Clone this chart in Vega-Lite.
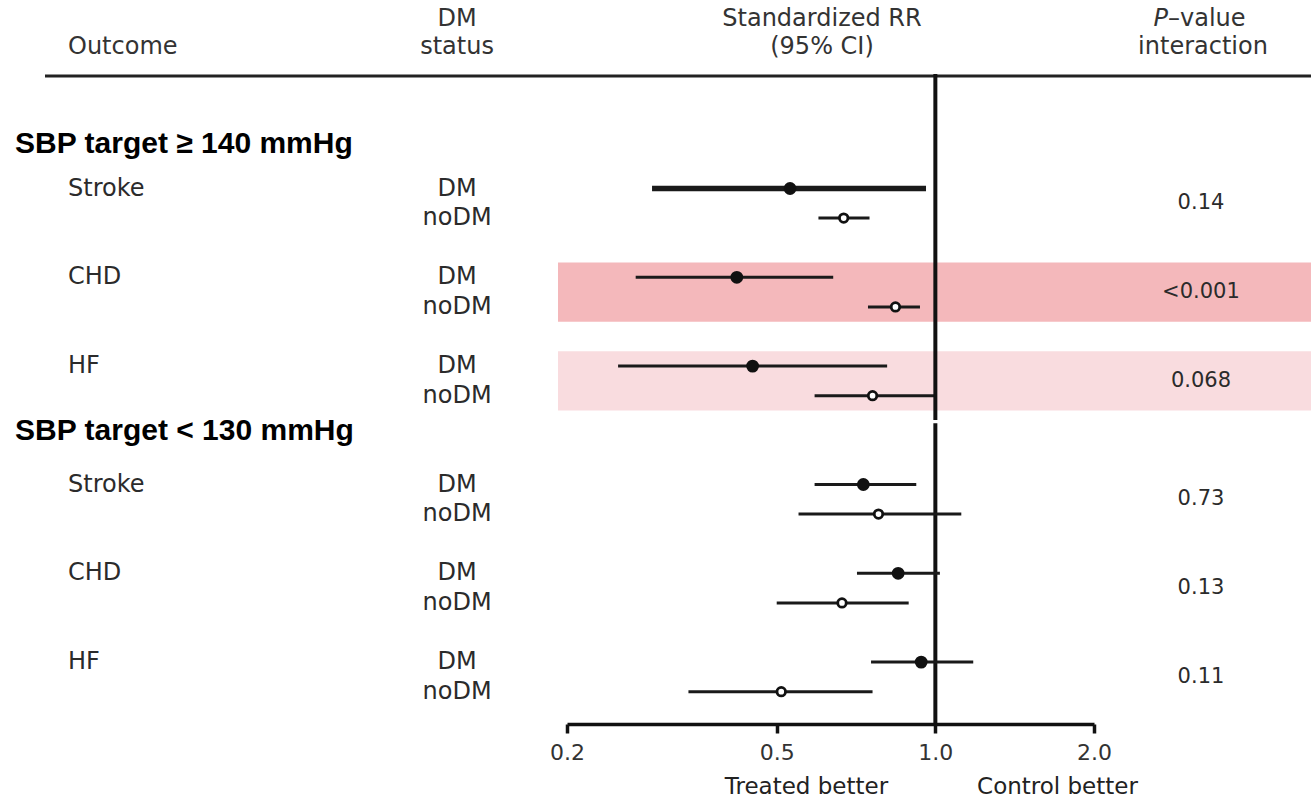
{
  "$schema": "https://vega.github.io/schema/vega-lite/v6.json",
  "width": 527,
  "height": 724,
  "autosize": {"type": "none"},
  "padding": {"left": 567, "top": 0, "right": 217, "bottom": 73},
  "background": "white",
  "config": {"view": {"stroke": null}, "font": "DejaVu Sans"},
  "datasets": {
    "estimates": [
      {"target": "≥140", "outcome": "Stroke", "dm": "DM", "row": "≥140 Stroke DM", "rr": 0.53, "lo": 0.29, "hi": 0.96},
      {"target": "≥140", "outcome": "Stroke", "dm": "noDM", "row": "≥140 Stroke noDM", "rr": 0.67, "lo": 0.60, "hi": 0.75},
      {"target": "≥140", "outcome": "CHD", "dm": "DM", "row": "≥140 CHD DM", "rr": 0.42, "lo": 0.27, "hi": 0.64},
      {"target": "≥140", "outcome": "CHD", "dm": "noDM", "row": "≥140 CHD noDM", "rr": 0.84, "lo": 0.745, "hi": 0.935},
      {"target": "≥140", "outcome": "HF", "dm": "DM", "row": "≥140 HF DM", "rr": 0.45, "lo": 0.25, "hi": 0.81},
      {"target": "≥140", "outcome": "HF", "dm": "noDM", "row": "≥140 HF noDM", "rr": 0.76, "lo": 0.59, "hi": 1.0},
      {"target": "<130", "outcome": "Stroke", "dm": "DM", "row": "<130 Stroke DM", "rr": 0.73, "lo": 0.59, "hi": 0.92},
      {"target": "<130", "outcome": "Stroke", "dm": "noDM", "row": "<130 Stroke noDM", "rr": 0.78, "lo": 0.55, "hi": 1.12},
      {"target": "<130", "outcome": "CHD", "dm": "DM", "row": "<130 CHD DM", "rr": 0.85, "lo": 0.71, "hi": 1.02},
      {"target": "<130", "outcome": "CHD", "dm": "noDM", "row": "<130 CHD noDM", "rr": 0.665, "lo": 0.50, "hi": 0.89},
      {"target": "<130", "outcome": "HF", "dm": "DM", "row": "<130 HF DM", "rr": 0.94, "lo": 0.755, "hi": 1.18},
      {"target": "<130", "outcome": "HF", "dm": "noDM", "row": "<130 HF noDM", "rr": 0.51, "lo": 0.34, "hi": 0.76}
    ],
    "outcomes": [
      {"target": "≥140", "outcome": "Stroke", "p": "0.14", "significance": "ns", "top": "≥140 Stroke top", "dmRow": "≥140 Stroke DM", "mid": "≥140 Stroke mid", "bottom": "≥140 Stroke bottom"},
      {"target": "≥140", "outcome": "CHD", "p": "<0.001", "significance": "p<0.05", "top": "≥140 CHD top", "dmRow": "≥140 CHD DM", "mid": "≥140 CHD mid", "bottom": "≥140 CHD bottom"},
      {"target": "≥140", "outcome": "HF", "p": "0.068", "significance": "p<0.10", "top": "≥140 HF top", "dmRow": "≥140 HF DM", "mid": "≥140 HF mid", "bottom": "≥140 HF bottom"},
      {"target": "<130", "outcome": "Stroke", "p": "0.73", "significance": "ns", "top": "<130 Stroke top", "dmRow": "<130 Stroke DM", "mid": "<130 Stroke mid", "bottom": "<130 Stroke bottom"},
      {"target": "<130", "outcome": "CHD", "p": "0.13", "significance": "ns", "top": "<130 CHD top", "dmRow": "<130 CHD DM", "mid": "<130 CHD mid", "bottom": "<130 CHD bottom"},
      {"target": "<130", "outcome": "HF", "p": "0.11", "significance": "ns", "top": "<130 HF top", "dmRow": "<130 HF DM", "mid": "<130 HF mid", "bottom": "<130 HF bottom"}
    ],
    "headings": [
      {"target": "≥140", "heading": "SBP target ≥ 140 mmHg", "row": "head ≥140"},
      {"target": "<130", "heading": "SBP target < 130 mmHg", "row": "head <130"}
    ]
  },
  "layer": [
    {
      "layer": [
        {
          "data": {"name": "outcomes"},
          "transform": [{"filter": "datum.significance !== 'ns'"}],
          "mark": {"type": "rect"},
          "encoding": {
            "x": {"datum": 0.1923, "type": "quantitative", "scale": {"type": "log", "domain": [0.2, 2], "nice": false}},
            "x2": {"datum": 5.1614},
            "y": {"field": "top", "type": "nominal", "axis": null, "scale": {"type": "point", "padding": 0.96, "align": 0.905, "round": false, "domain": ["pad 1", "pad 2", "pad 3", "pad 4", "pad 5", "pad 6", "pad 7", "pad 8", "head ≥140", "gap a", "≥140 Stroke top", "≥140 Stroke DM", "≥140 Stroke mid", "≥140 Stroke noDM", "≥140 Stroke bottom", "gap b", "≥140 CHD top", "≥140 CHD DM", "≥140 CHD mid", "≥140 CHD noDM", "≥140 CHD bottom", "gap c", "≥140 HF top", "≥140 HF DM", "≥140 HF mid", "≥140 HF noDM", "≥140 HF bottom", "split", "head <130", "gap d", "<130 Stroke top", "<130 Stroke DM", "<130 Stroke mid", "<130 Stroke noDM", "<130 Stroke bottom", "gap e", "<130 CHD top", "<130 CHD DM", "<130 CHD mid", "<130 CHD noDM", "<130 CHD bottom", "gap f", "<130 HF top", "<130 HF DM", "<130 HF mid", "<130 HF noDM", "<130 HF bottom", "base"]}},
            "y2": {"field": "bottom"},
            "fill": {"field": "significance", "type": "nominal", "scale": {"domain": ["p<0.05", "p<0.10"], "range": ["#f4b8bb", "#f9dcdf"]}, "legend": null}
          }
        },
        {
          "data": {"values": [{}]},
          "mark": {"type": "rule", "color": "#111111", "strokeWidth": 4, "strokeCap": "square"},
          "encoding": {
            "x": {"datum": 1, "type": "quantitative"},
            "y": {"datum": "split", "type": "nominal", "axis": null},
            "y2": {"datum": "base"}
          }
        },
        {
          "data": {"name": "estimates"},
          "mark": {"type": "rule", "color": "#1a1a1a"},
          "encoding": {
            "x": {"field": "lo", "type": "quantitative", "scale": {"type": "log", "domain": [0.2, 2], "nice": false},
                  "axis": {"orient": "bottom", "values": [0.2, 0.5, 1, 2], "format": ".1f", "title": null, "grid": false, "domainColor": "#111111", "domainWidth": 3.5, "tickColor": "#111111", "tickWidth": 3.5, "tickSize": 9, "labelFont": "DejaVu Sans", "labelFontSize": 22, "labelColor": "#333333", "labelPadding": 9, "labelFlush": false, "labelOverlap": false}},
            "x2": {"field": "hi"},
            "y": {"field": "row", "type": "nominal", "axis": null},
            "strokeWidth": {"condition": {"test": "datum.target === '≥140' && datum.outcome === 'Stroke' && datum.dm === 'DM'", "value": 5.5}, "value": 3}
          }
        },
        {
          "data": {"name": "estimates"},
          "mark": {"type": "point", "shape": "circle", "stroke": "#111111", "strokeWidth": 2.8, "opacity": 1},
          "encoding": {
            "x": {"field": "rr", "type": "quantitative"},
            "y": {"field": "row", "type": "nominal", "axis": null},
            "fill": {"condition": {"test": "datum.dm === 'DM'", "value": "#111111"}, "value": "#ffffff"},
            "size": {"condition": {"test": "datum.dm === 'DM'", "value": 100}, "value": 72}
          }
        },
        {
          "data": {"name": "outcomes"},
          "mark": {"type": "text", "align": "left", "baseline": "middle", "font": "DejaVu Sans", "fontSize": 24, "color": "#2b2b2b"},
          "encoding": {
            "x": {"datum": 0.022602, "type": "quantitative"},
            "y": {"field": "dmRow", "type": "nominal", "axis": null},
            "text": {"field": "outcome"}
          }
        },
        {
          "data": {"name": "estimates"},
          "mark": {"type": "text", "align": "center", "baseline": "middle", "font": "DejaVu Sans", "fontSize": 24, "color": "#2b2b2b"},
          "encoding": {
            "x": {"datum": 0.12371, "type": "quantitative"},
            "y": {"field": "row", "type": "nominal", "axis": null},
            "text": {"field": "dm"}
          }
        },
        {
          "data": {"name": "outcomes"},
          "mark": {"type": "text", "align": "center", "baseline": "middle", "font": "DejaVu Sans", "fontSize": 21, "color": "#2b2b2b"},
          "encoding": {
            "x": {"datum": 3.1918, "type": "quantitative"},
            "y": {"field": "mid", "type": "nominal", "axis": null},
            "text": {"field": "p"}
          }
        },
        {
          "data": {"name": "headings"},
          "transform": [{"filter": "datum.target === '≥140'"}],
          "mark": {"type": "text", "align": "left", "baseline": "middle", "font": "Liberation Sans", "fontWeight": "bold", "fontSize": 30, "color": "#000000"},
          "encoding": {
            "x": {"datum": 0.017935, "type": "quantitative"},
            "y": {"field": "row", "type": "nominal", "axis": null},
            "text": {"field": "heading"}
          }
        },
        {
          "data": {"name": "headings"},
          "transform": [{"filter": "datum.target === '<130'"}],
          "mark": {"type": "text", "align": "left", "baseline": "alphabetic", "font": "Liberation Sans", "fontWeight": "bold", "fontSize": 30, "color": "#000000"},
          "encoding": {
            "x": {"datum": 0.017935, "type": "quantitative"},
            "y": {"field": "row", "type": "nominal", "axis": null},
            "text": {"field": "heading"}
          }
        }
      ]
    },
    {
      "layer": [
        {
          "data": {"values": [{}]},
          "mark": {"type": "rule", "color": "#222222", "strokeWidth": 3},
          "encoding": {
            "x": {"datum": 0.020442, "type": "quantitative", "scale": {"type": "log", "domain": [0.2, 2], "nice": false},
                  "axis": {"orient": "bottom", "values": [0.5682, 1.7014], "labelExpr": "datum.value < 1 ? 'Treated better' : 'Control better'", "ticks": false, "domain": false, "grid": false, "title": null, "labelFont": "DejaVu Sans", "labelFontSize": 23, "labelColor": "#222222", "labelPadding": 51, "labelFlush": false, "labelOverlap": false, "labelBound": false}},
            "x2": {"datum": 5.1614},
            "y": {"datum": "rule", "type": "nominal", "axis": null, "scale": {"type": "point", "padding": 0.851, "align": 0.19588, "round": false, "domain": ["hdr", "rule", "b2", "b3", "b4", "b5", "b6", "segEnd", "b8", "b9", "b10", "b11"]}}
          }
        },
        {
          "data": {"values": [{}]},
          "mark": {"type": "rule", "color": "#111111", "strokeWidth": 4, "strokeCap": "square"},
          "encoding": {
            "x": {"datum": 1, "type": "quantitative"},
            "y": {"datum": "rule", "type": "nominal", "axis": null},
            "y2": {"datum": "segEnd"}
          }
        },
        {
          "data": {"values": [{}]},
          "mark": {"type": "text", "align": "left", "baseline": "middle", "lineBreak": "\n", "lineHeight": 28, "font": "DejaVu Sans", "fontSize": 24, "color": "#333333", "text": "\nOutcome"},
          "encoding": {
            "x": {"datum": 0.022602, "type": "quantitative"},
            "y": {"datum": "hdr", "type": "nominal", "axis": null}
          }
        },
        {
          "data": {"values": [{}]},
          "mark": {"type": "text", "align": "center", "baseline": "middle", "lineBreak": "\n", "lineHeight": 28, "font": "DejaVu Sans", "fontSize": 24, "color": "#333333", "text": "DM\nstatus"},
          "encoding": {
            "x": {"datum": 0.12371, "type": "quantitative"},
            "y": {"datum": "hdr", "type": "nominal", "axis": null}
          }
        },
        {
          "data": {"values": [{}]},
          "mark": {"type": "text", "align": "center", "baseline": "middle", "lineBreak": "\n", "lineHeight": 28, "font": "DejaVu Sans", "fontSize": 24, "color": "#333333", "text": "Standardized RR\n(95% CI)"},
          "encoding": {
            "x": {"datum": 0.6094, "type": "quantitative"},
            "y": {"datum": "hdr", "type": "nominal", "axis": null}
          }
        },
        {
          "data": {"values": [{}]},
          "mark": {"type": "text", "align": "right", "baseline": "middle", "lineBreak": "\n", "lineHeight": 28, "font": "DejaVu Sans", "fontStyle": "italic", "fontSize": 24, "color": "#333333", "text": "P\n"},
          "encoding": {
            "x": {"datum": 2.7636, "type": "quantitative"},
            "y": {"datum": "hdr", "type": "nominal", "axis": null}
          }
        },
        {
          "data": {"values": [{}]},
          "mark": {"type": "text", "align": "left", "baseline": "middle", "lineBreak": "\n", "lineHeight": 28, "font": "DejaVu Sans", "fontSize": 24, "color": "#333333", "text": "–value\n"},
          "encoding": {
            "x": {"datum": 2.7636, "type": "quantitative"},
            "y": {"datum": "hdr", "type": "nominal", "axis": null}
          }
        },
        {
          "data": {"values": [{}]},
          "mark": {"type": "text", "align": "center", "baseline": "middle", "lineBreak": "\n", "lineHeight": 28, "font": "DejaVu Sans", "fontSize": 24, "color": "#333333", "text": "\ninteraction"},
          "encoding": {
            "x": {"datum": 3.22, "type": "quantitative"},
            "y": {"datum": "hdr", "type": "nominal", "axis": null}
          }
        }
      ]
    }
  ],
  "resolve": {"scale": {"y": "independent"}, "axis": {"x": "independent", "y": "independent"}}
}
